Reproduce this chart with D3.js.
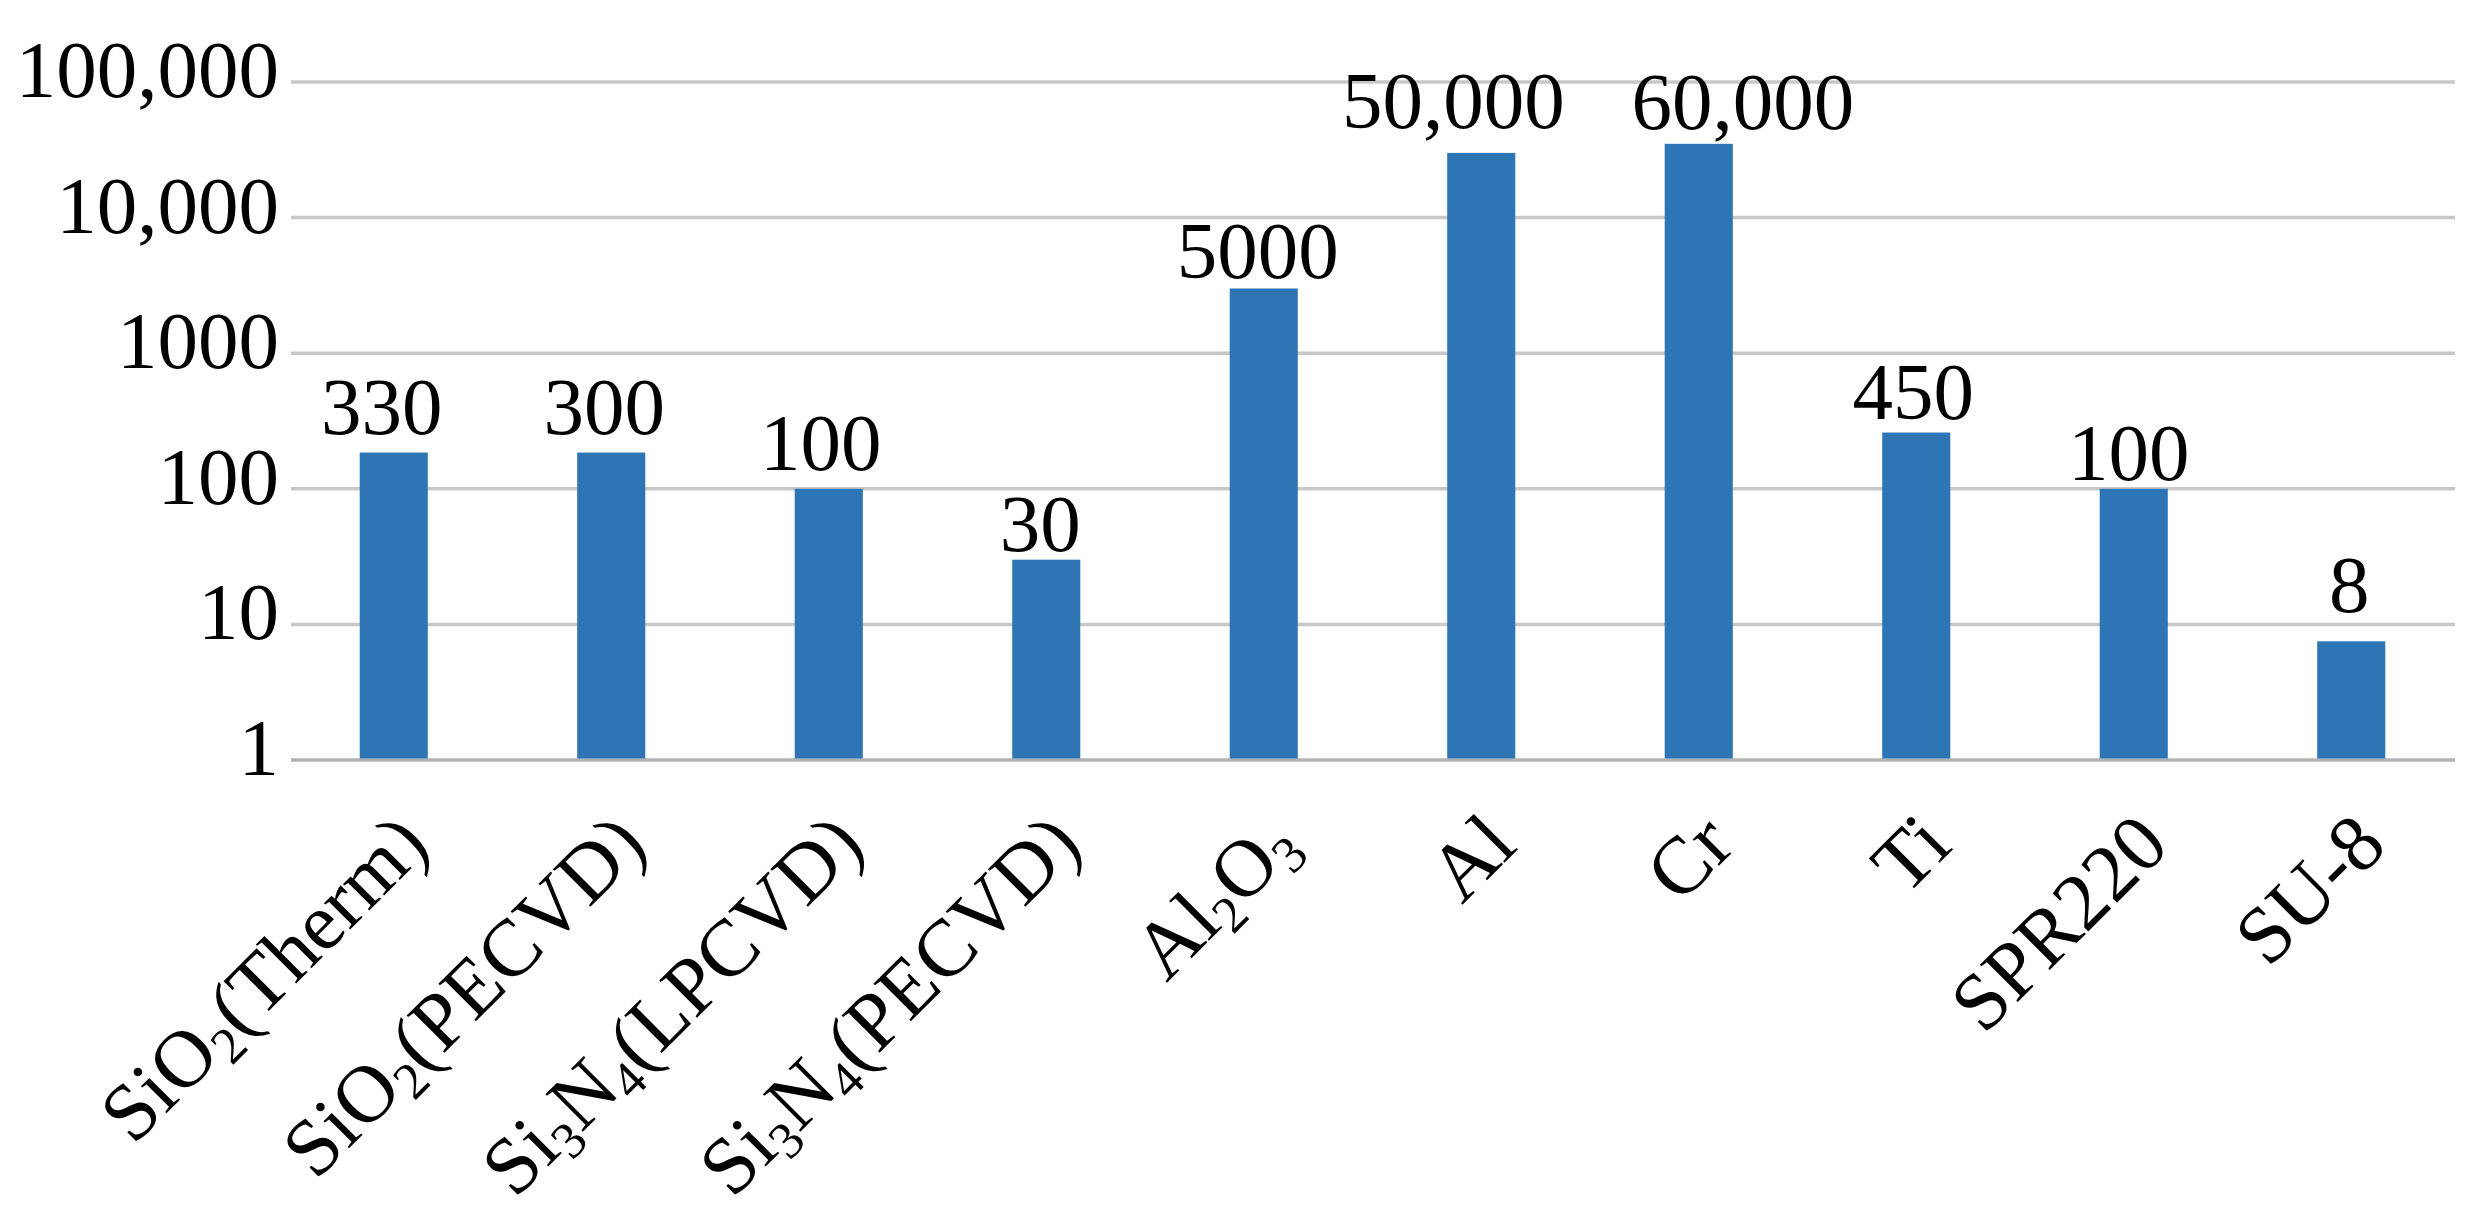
<!DOCTYPE html>
<html>
<head>
<meta charset="utf-8">
<script src="https://cdn.jsdelivr.net/npm/d3@7"></script>
<style>
  body { margin: 0; background: #fff; }
  svg text { font-family: "Liberation Serif", "Times New Roman", serif; fill: #000; }
</style>
</head>
<body>
<svg id="chart" width="2481" height="1224"></svg>
<script>
// categories use "_n" to mark a subscript digit
const categories = ["SiO_2(Therm)", "SiO_2(PECVD)", "Si_3N_4(LPCVD)", "Si_3N_4(PECVD)", "Al_2O_3", "Al", "Cr", "Ti", "SPR220", "SU-8"];
const barValues = [185, 185, 100, 30, 3000, 30000, 35000, 260, 100, 7.5];
const valueLabels = ["330", "300", "100", "30", "5000", "50,000", "60,000", "450", "100", "8"];
const yTicks = [1, 10, 100, 1000, 10000, 100000];
const yTickLabels = ["1", "10", "100", "1000", "10,000", "100,000"];

// hand nudges of the value labels, as in the source figure
const labelDx = [-12, -7, -8, -6, -6, -28, 44, -3, -5, -2];
const labelGap = [19, 19, 19, 9, 11, 25, 15, 14, 9, 29];

const plot = { left: 291, right: 2455, top: 82, bottom: 760 };
const fontSize = 81;
const catFontSize = 81;

const svg = d3.select("#chart");

const x = d3.scaleBand()
  .domain(d3.range(categories.length))
  .range([285, 2460])
  .paddingInner(0.687)
  .paddingOuter(0.3435);

const y = d3.scaleLog()
  .domain([1, 100000])
  .range([plot.bottom, plot.top]);

// gridlines
svg.append("g")
  .selectAll("line")
  .data(yTicks)
  .join("line")
  .attr("x1", plot.left)
  .attr("x2", plot.right)
  .attr("y1", d => y(d))
  .attr("y2", d => y(d))
  .attr("stroke", d => d === 1 ? "#b3b3b3" : "#c8c8c8")
  .attr("stroke-width", 3.5);

// y tick labels
svg.append("g")
  .selectAll("text")
  .data(yTicks)
  .join("text")
  .attr("x", plot.left - 12)
  .attr("y", d => y(d) + 15)
  .attr("text-anchor", "end")
  .attr("font-size", fontSize)
  .text((d, i) => yTickLabels[i]);

// bars
svg.append("g")
  .selectAll("rect")
  .data(barValues)
  .join("rect")
  .attr("x", (d, i) => x(i))
  .attr("width", x.bandwidth())
  .attr("y", d => y(d))
  .attr("height", d => plot.bottom - 1.5 - y(d))
  .attr("fill", "#2e75b6");

// value labels
svg.append("g")
  .selectAll("text")
  .data(barValues)
  .join("text")
  .attr("x", (d, i) => x(i) + x.bandwidth() / 2 + labelDx[i])
  .attr("y", (d, i) => y(d) - labelGap[i])
  .attr("text-anchor", "middle")
  .attr("font-size", fontSize)
  .text((d, i) => valueLabels[i]);

// rotated category labels with subscripts
const cat = svg.append("g")
  .selectAll("text")
  .data(categories)
  .join("text")
  .attr("text-anchor", "end")
  .attr("font-size", catFontSize)
  .attr("transform", (d, i) => `translate(${x(i) + x.bandwidth() / 2 + 38},848) rotate(-45)`);

cat.each(function(d) {
  const t = d3.select(this);
  d.split(/_(\d)/).forEach((part, k) => {
    if (!part) return;
    if (k % 2 === 1) {
      t.append("tspan").attr("font-size", catFontSize * 0.64).attr("dy", 13).text(part);
    } else {
      t.append("tspan").attr("dy", k === 0 ? 0 : -13).text(part);
    }
  });
});
</script>
</body>
</html>
